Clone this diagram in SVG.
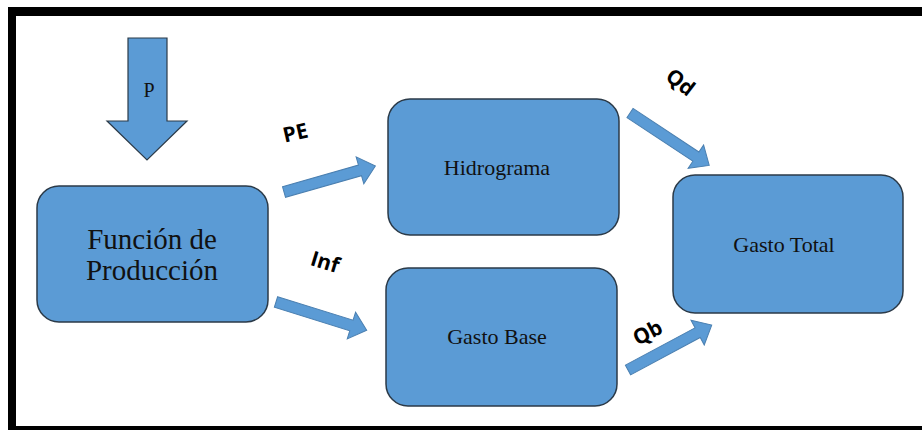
<svg xmlns="http://www.w3.org/2000/svg" width="922" height="430" viewBox="0 0 922 430">
<style>
.box{fill:#5B9BD5;stroke:#2B3A48;stroke-width:1.5}
.arr{fill:#5B9BD5;stroke:#4A7FB0;stroke-width:1}
.t{font-family:"Liberation Serif","Times New Roman",serif;fill:#111;text-anchor:middle}
.lbl{font-family:"Open Sans","Liberation Sans",Arial,sans-serif;font-weight:bold;font-size:21px;fill:#000;text-anchor:middle}
</style>
<defs>
<path id="ba" d="M0,-5.5 L79,-5.5 L79,-14 L95,0 L79,14 L79,5.5 L0,5.5 Z"/>
</defs>
<rect width="922" height="430" fill="#fff"/>
<g id="frame" fill="#000">
<rect x="8" y="7" width="914" height="9"/>
<rect x="8" y="7" width="8" height="423"/>
<rect x="8" y="426" width="914" height="4"/>
</g>
<g id="input-P">
<path d="M128,38 L167,38 L167,121 L187,121 L147,160 L107,121 L128,121 Z" fill="#5B9BD5" stroke="#2B3A48" stroke-width="1.2"/>
<text class="t" x="149" y="97" font-size="20">P</text>
</g>
<g id="funcion">
<rect class="box" x="37" y="186" width="231" height="136" rx="22"/>
<text class="t" x="152" y="249" font-size="29">Función de</text>
<text class="t" x="152" y="280" font-size="29">Producción</text>
</g>
<g id="hidrograma">
<rect class="box" x="388" y="99" width="231" height="136" rx="22"/>
<text class="t" x="497" y="175" font-size="22">Hidrograma</text>
</g>
<g id="gasto-base">
<rect class="box" x="386" y="268" width="231" height="138" rx="22"/>
<text class="t" x="497" y="344" font-size="22">Gasto Base</text>
</g>
<g id="gasto-total">
<rect class="box" x="673" y="175" width="230" height="138" rx="22"/>
<text class="t" x="784" y="252" font-size="22">Gasto Total</text>
</g>
<g id="connectors">
<use href="#ba" class="arr" transform="translate(284,192) rotate(-15.9)"/>
<use href="#ba" class="arr" transform="translate(276,302) rotate(17.3)"/>
<use href="#ba" class="arr" transform="translate(628,370) rotate(-28.2)"/>
<use href="#ba" class="arr" transform="translate(630,113) rotate(33.5)"/>
<text class="lbl" transform="translate(297,140) rotate(-13)">PE</text>
<text class="lbl" transform="translate(323,269) rotate(17)">Inf</text>
<text class="lbl" transform="translate(676,88) rotate(38)">Qd</text>
<text class="lbl" transform="translate(651,339) rotate(-28)">Qb</text>
</g>
</svg>
